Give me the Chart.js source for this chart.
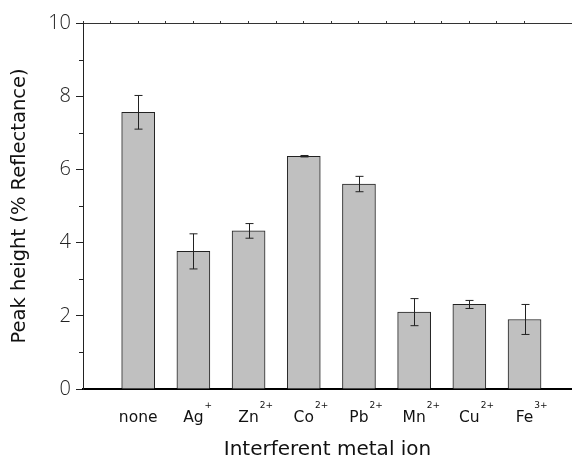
<!DOCTYPE html>
<html>
<head>
<meta charset="utf-8">
<script src="https://cdn.jsdelivr.net/npm/chart.js@4"></script>
<style>
  body { margin: 0; background: #fff; }
  #wrap { width: 572px; height: 460px; }
</style>
</head>
<body>
<div id="wrap"><canvas id="barsIon"></canvas></div>
<script>
// data
const ions = ['none', 'Ag', 'Zn', 'Co', 'Pb', 'Mn', 'Cu', 'Fe'];
const charges = ['', '+', '2+', '2+', '2+', '2+', '2+', '3+'];
const positions = [1, 2, 3, 4, 5, 6, 7, 8];
const peakHeight = [7.56, 3.76, 4.32, 6.36, 5.60, 2.10, 2.31, 1.90];
const peakError = [0.46, 0.48, 0.20, 0.02, 0.21, 0.37, 0.11, 0.41];
const yTicks = [0, 2, 4, 6, 8, 10];
const yMinorTicks = [1, 3, 5, 7, 9];

const FONT = "'DejaVu Sans', sans-serif";
const NUM_FONT = "'Open Sans', 'DejaVu Sans', sans-serif";

// error bars, minor ticks and the ion labels with superscript charges
const extras = {
  id: 'extras',
  afterDatasetsDraw(chart) {
    const ctx = chart.ctx;
    const xs = chart.scales.x;
    const ys = chart.scales.y;
    ctx.save();
    ctx.strokeStyle = '#222';
    ctx.lineWidth = 1;
    positions.forEach((p, i) => {
      const x = Math.round(xs.getPixelForValue(p)) + 0.5;
      const top = ys.getPixelForValue(peakHeight[i] + peakError[i]);
      const bot = ys.getPixelForValue(peakHeight[i] - peakError[i]);
      ctx.beginPath();
      ctx.moveTo(x, top);
      ctx.lineTo(x, bot);
      ctx.moveTo(x - 4, top);
      ctx.lineTo(x + 4, top);
      ctx.moveTo(x - 4, bot);
      ctx.lineTo(x + 4, bot);
      ctx.stroke();
    });
    ctx.restore();
  },
  afterDraw(chart) {
    const ctx = chart.ctx;
    const xs = chart.scales.x;
    const ys = chart.scales.y;
    const left = chart.chartArea.left;
    ctx.save();
    ctx.strokeStyle = '#222';
    ctx.lineWidth = 1;
    yMinorTicks.forEach(v => {
      const y = Math.round(ys.getPixelForValue(v)) + 0.5;
      ctx.beginPath();
      ctx.moveTo(left - 4, y);
      ctx.lineTo(left, y);
      ctx.stroke();
    });
    ctx.fillStyle = '#111';
    ctx.textBaseline = 'alphabetic';
    ions.forEach((name, i) => {
      const x = xs.getPixelForValue(positions[i]);
      ctx.font = '15.5px ' + FONT;
      const w = ctx.measureText(name).width;
      ctx.textAlign = 'left';
      ctx.fillText(name, x - w / 2, 422);
      if (charges[i]) {
        ctx.font = '9px ' + FONT;
        ctx.fillText(charges[i], x + w / 2 + 1, 408);
      }
    });
    ctx.restore();
  }
};

const barConfig = {
  type: 'bar',
  data: {
    datasets: [
      {
        label: 'Peak height',
        backgroundColor: '#c0c0c0',
        borderColor: '#222',
        borderWidth: 1,
        borderSkipped: 'bottom',
        barThickness: 33,
        data: positions.map((p, i) => ({ x: p, y: peakHeight[i] })),
      },
    ],
  },
  options: {
    responsive: true,
    maintainAspectRatio: false,
    animation: false,
    layout: { padding: 0 },
    plugins: {
      legend: { display: false },
      tooltip: { enabled: false },
    },
    scales: {
      x: {
        type: 'linear',
        position: 'bottom',
        offset: false,
        min: 0,
        max: 8.86,
        grid: { display: false, offset: false },
        border: { display: true, color: '#000', width: 2 },
        ticks: { display: false },
        title: {
          display: true,
          text: 'Interferent metal ion',
          color: '#111',
          font: { family: FONT, size: 20, lineHeight: 1 },
          padding: 0,
        },
        afterFit: (scale) => { scale.height = 71; },
      },
      xTop: {
        type: 'linear',
        position: 'top',
        offset: false,
        min: 0,
        max: 8.86,
        grid: { drawOnChartArea: false, offset: false, tickLength: 2, color: '#333' },
        border: { display: true, color: '#333', width: 1 },
        ticks: { display: false, stepSize: 0.5 },
        afterFit: (scale) => { scale.height = 23; },
      },
      y: {
        min: 0,
        max: 10,
        afterBuildTicks: (scale) => { scale.ticks = yTicks.map(v => ({ value: v })); },
        grid: { drawOnChartArea: false, tickLength: 7, color: '#222' },
        border: { display: true, color: '#222', width: 1 },
        ticks: {
          color: '#222',
          padding: 5,
          font: { family: NUM_FONT, size: 20, weight: '300' },
        },
        title: {
          display: true,
          text: 'Peak height (% Reflectance)',
          color: '#111',
          font: { family: FONT, size: 19.5, lineHeight: 1 },
          padding: { top: 10, bottom: 0 },
        },
        afterFit: (scale) => { scale.width = 83; },
      },
    },
  },
  plugins: [extras],
};

const barsCtx = document.getElementById('barsIon');
window.myBar = new Chart(barsCtx, barConfig);
</script>
</body>
</html>
